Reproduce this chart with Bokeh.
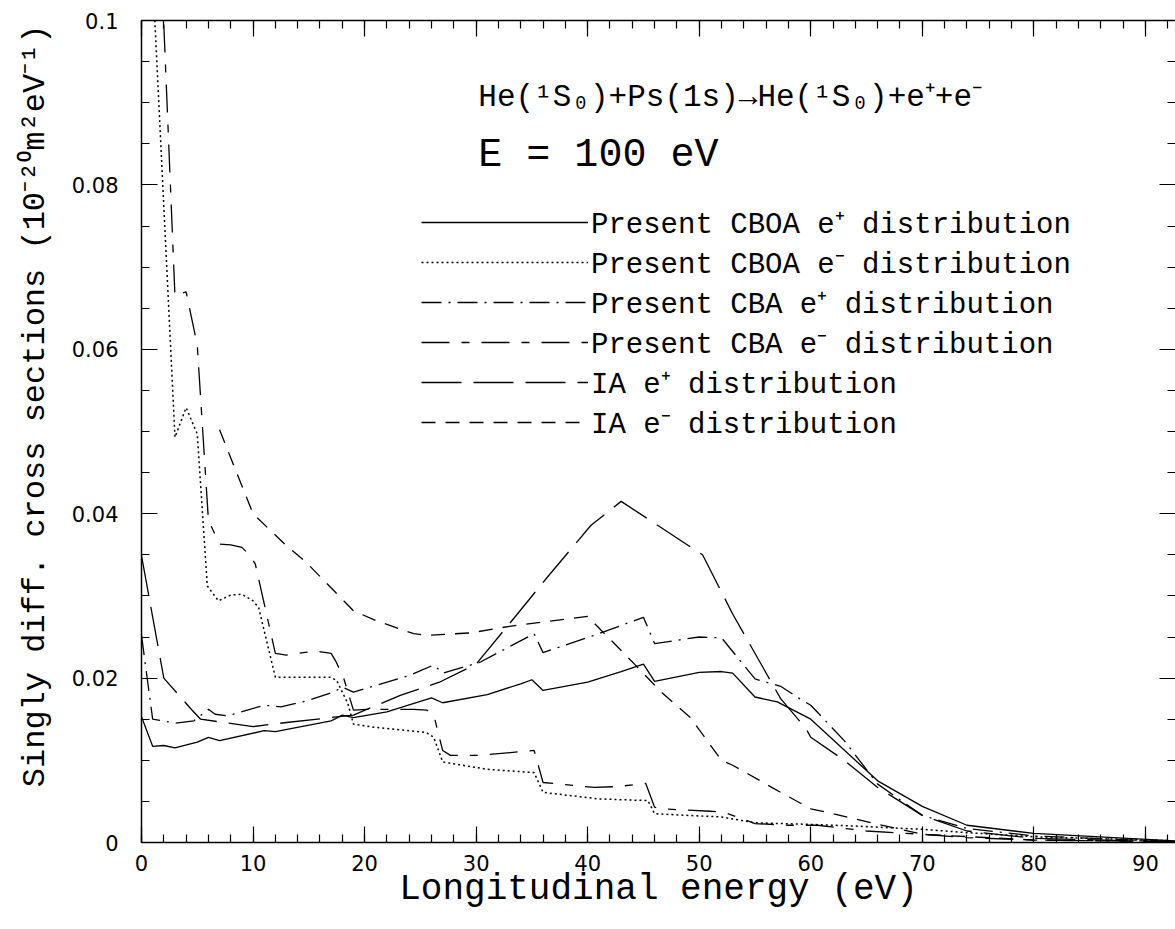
import numpy as np
from bokeh.plotting import figure
from bokeh.models import (Range1d, LinearAxis, SingleIntervalTicker, CustomJSTickFormatter,
                          Label, Legend, LegendItem, Title)
from bokeh.embed import file_html
from bokeh.resources import INLINE

# ---------------- data ----------------
# Present CBOA e+ distribution (solid)
x_cboa_pos = [0, 1, 2, 3, 5, 6, 7, 11, 12, 17, 18, 19, 22, 26, 27, 31, 34, 35, 36, 40, 43, 45,
              46, 50, 52, 53, 55, 57, 59, 60, 66, 70, 74, 80, 92.7]
y_cboa_pos = [0.0153, 0.0117, 0.0118, 0.0115, 0.0122, 0.0128, 0.0124, 0.0136, 0.0135, 0.0148,
              0.0155, 0.0152, 0.0159, 0.0176, 0.0170, 0.0180, 0.0193, 0.0198, 0.0185, 0.0195,
              0.0208, 0.0217, 0.0196, 0.0207, 0.0208, 0.0206, 0.0177, 0.0171, 0.0157, 0.0150,
              0.0075, 0.0044, 0.0021, 0.0011, 0.0002]

# Present CBOA e- distribution (dotted)
x_cboa_neg = [1, 3, 4, 5, 5.9, 6.9, 8, 9, 10, 10.5, 12, 17, 17.5, 18.5, 19, 21, 25.5, 26.2, 27,
              31, 35.2, 36, 41, 45.4, 46, 52, 55, 60, 64, 70, 74, 80, 92.7]
y_cboa_neg = [0.1055, 0.0493, 0.0529, 0.0497, 0.0312, 0.0294, 0.0301, 0.0302, 0.0294, 0.0286,
              0.0201, 0.0201, 0.0197, 0.0169, 0.0144, 0.0140, 0.0134, 0.0128, 0.0098, 0.0089,
              0.0085, 0.0061, 0.0053, 0.0051, 0.0035, 0.0031, 0.0024, 0.0022, 0.0020, 0.0016,
              0.0012, 0.0007, 0.0002]

# Present CBA e+ distribution (dash-dot)
x_cba_pos = [0, 1, 2, 3, 4.7, 6, 6.6, 7.7, 11, 12.5, 15, 17.2, 18, 19, 24, 26.2, 27, 30.3,
             35.2, 36, 41, 45, 46, 50, 52, 55, 57.3, 59, 60, 63, 66, 70, 74, 80, 92.7]
y_cba_pos = [0.0252, 0.0150, 0.0148, 0.0145, 0.0148, 0.0162, 0.0156, 0.0154, 0.0167, 0.0165,
             0.0173, 0.0183, 0.0189, 0.0183, 0.0203, 0.0216, 0.0206, 0.0219, 0.0254, 0.0231,
             0.0254, 0.0274, 0.0242, 0.0250, 0.0249, 0.0199, 0.0190, 0.0175, 0.0167, 0.0124,
             0.0071, 0.0033, 0.0017, 0.0008, 0.0001]

# Present CBA e- distribution (long-short dash)
x_cba_neg = [2, 3, 4, 5, 6, 7, 8, 9, 9.6, 10.2, 12, 13, 15.6, 17, 17.4, 18.1, 19, 20.2, 24.4,
             25.6, 26.2, 27, 27.7, 30.3, 35.2, 36, 40.6, 42.7, 45.2, 46, 46.6, 51, 52.2, 55,
             58, 60.6, 65, 70, 74, 80, 92.7]
y_cba_neg = [0.0995, 0.0665, 0.0670, 0.0605, 0.0392, 0.0363, 0.0362, 0.0359, 0.0351, 0.0339,
             0.0230, 0.0228, 0.0233, 0.0230, 0.0221, 0.0201, 0.0161, 0.0162, 0.0162, 0.0161,
             0.0155, 0.0112, 0.0106, 0.0106, 0.0112, 0.0073, 0.0067, 0.0068, 0.0072, 0.0043,
             0.0041, 0.0038, 0.0037, 0.0023, 0.0021, 0.0021, 0.0014, 0.0010, 0.0006, 0.0003,
             0.0001]

# IA e+ distribution (long dash)
x_ia_pos = [0, 2, 4.4, 5.3, 10, 13, 19, 23.2, 26.7, 30, 33.7, 36.4, 40.3, 43, 50.3, 53, 57.3,
            59.6, 60, 63, 66, 70, 74, 80, 92.7]
y_ia_pos = [0.0349, 0.0200, 0.0163, 0.0150, 0.0141, 0.0146, 0.0155, 0.0179, 0.0195, 0.0217,
            0.0278, 0.0323, 0.0386, 0.0415, 0.0350, 0.0278, 0.0175, 0.0138, 0.0128, 0.0100,
            0.0067, 0.0033, 0.0014, 0.0005, 0.0001]

# IA e- distribution (dashed)
x_ia_neg = [7, 10, 13, 14.6, 19, 21, 24.4, 25.6, 29.5, 33, 40, 44.2, 46.6, 49.2, 52, 53, 57.3,
            60, 62, 65.7, 70, 80, 92.7]
y_ia_neg = [0.0502, 0.0400, 0.0361, 0.0343, 0.0282, 0.0270, 0.0254, 0.0252, 0.0255, 0.0263,
            0.0275, 0.0217, 0.0183, 0.0152, 0.0100, 0.0094, 0.0061, 0.0041, 0.0035, 0.0023,
            0.0010, 0.0003, 0.0001]

legend_labels = ["Present CBOA e\u207a distribution",
                 "Present CBOA e\u207b distribution",
                 "Present CBA e\u207a distribution",
                 "Present CBA e\u207b distribution",
                 "IA e\u207a distribution",
                 "IA e\u207b distribution"]

reaction_text = "He(\u00b9S\u2080)+Ps(1s)\u2192He(\u00b9S\u2080)+e\u207a+e\u207b"
energy_text = "E = 100 eV"
x_title = "Longitudinal energy (eV)"
y_title = "Singly diff. cross sections (10\u207b\u00b2\u2070m\u00b2eV\u207b\u00b9)"

# ---------------- figure ----------------
X_END = 92.7
p = figure(width=1175, height=929, output_backend="svg", toolbar_location=None,
           x_range=Range1d(0, X_END), y_range=Range1d(0, 0.1),
           min_border_left=141, min_border_top=20, min_border_bottom=87, min_border_right=0)
p.outline_line_color = None
p.xgrid.visible = False
p.ygrid.visible = False

bottom = p.below[0]
left = p.left[0]

xt = SingleIntervalTicker(interval=10, num_minor_ticks=5)
yt = SingleIntervalTicker(interval=0.02, num_minor_ticks=4)

bottom.ticker = xt
left.ticker = yt
left.formatter = CustomJSTickFormatter(
    code="return tick == 0 ? '0' : (Math.round(tick*100)/100).toString();")

blank = CustomJSTickFormatter(code="return '';")
top = LinearAxis(ticker=xt, formatter=blank, major_label_standoff=0,
                 major_label_text_font_size="1px")
right = LinearAxis(ticker=yt, formatter=blank, major_label_standoff=0,
                   major_label_text_font_size="1px")
p.add_layout(top, "above")
p.add_layout(right, "right")

for ax in [bottom, left, top, right]:
    ax.major_tick_in = 16
    ax.major_tick_out = 0
    ax.minor_tick_in = 8
    ax.minor_tick_out = 0
    ax.axis_line_color = "black"
    ax.axis_line_width = 1.5
    ax.major_tick_line_color = "black"
    ax.minor_tick_line_color = "black"
    ax.major_tick_line_width = 1.2
    ax.minor_tick_line_width = 1.2
right.axis_line_color = None

bottom.major_label_text_font = "DejaVu Sans"
bottom.major_label_text_font_size = "21px"
bottom.major_label_text_color = "black"
bottom.major_label_standoff = 12
bottom.axis_label = x_title
bottom.axis_label_text_font = "Liberation Mono"
bottom.axis_label_text_font_size = "36px"
bottom.axis_label_text_font_style = "normal"
bottom.axis_label_text_color = "black"
bottom.axis_label_standoff = -5

left.major_label_text_font = "DejaVu Sans"
left.major_label_text_font_size = "21px"
left.major_label_text_color = "black"
left.major_label_standoff = 23

# y-axis title, placed in the left border, its end near the frame top
ytitle = Title(text=y_title, align="right", offset=4, vertical_align="middle", standoff=28,
               text_font="Liberation Mono", text_font_size="32px", text_font_style="normal",
               text_color="black")
p.add_layout(ytitle, "left")

LW = 1.3
r1 = p.line(x_cboa_pos, y_cboa_pos, line_color="black", line_width=LW)
r2 = p.line(x_cboa_neg, y_cboa_neg, line_color="black", line_width=1.5, line_dash="2 3")
r3 = p.line(x_cba_pos, y_cba_pos, line_color="black", line_width=LW, line_dash="20 7 2 7")
r4 = p.line(x_cba_neg, y_cba_neg, line_color="black", line_width=LW, line_dash="28 12 8 12")
r5 = p.line(x_ia_pos, y_ia_pos, line_color="black", line_width=LW, line_dash="40 12")
r6 = p.line(x_ia_neg, y_ia_neg, line_color="black", line_width=LW, line_dash="14 10")

legend = Legend(items=[LegendItem(label=l, renderers=[r]) for l, r in
                       zip(legend_labels, [r1, r2, r3, r4, r5, r6])],
                location=(280, 400), glyph_width=167, glyph_height=40, spacing=0,
                padding=0, margin=0, label_standoff=3, label_height=40,
                label_text_font="Liberation Mono", label_text_font_size="29px",
                label_text_color="black", border_line_color=None,
                background_fill_alpha=0)
p.add_layout(legend)

p.add_layout(Label(x=30.2, y=0.0906, text=reaction_text, text_font="Liberation Mono",
                   text_font_size="31px", text_baseline="middle", text_color="black"))
p.add_layout(Label(x=30.2, y=0.0836, text=energy_text, text_font="Liberation Mono",
                   text_font_size="40px", text_baseline="middle", text_color="black"))

open("out.html", "w").write(file_html(p, INLINE))
